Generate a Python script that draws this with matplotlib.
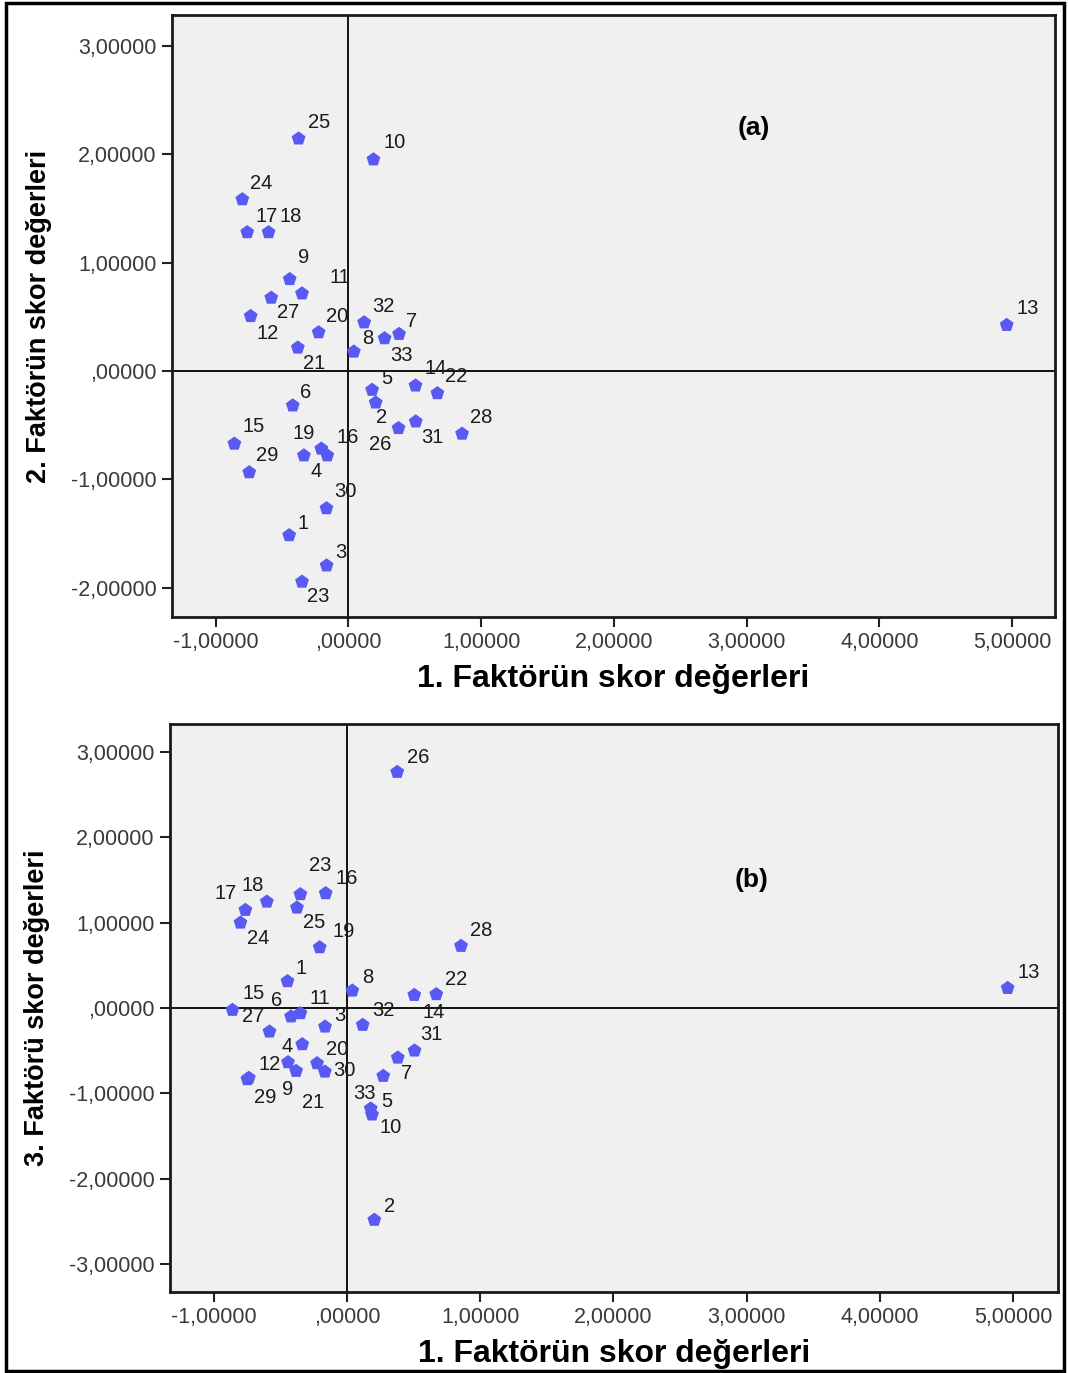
import matplotlib.pyplot as plt
from matplotlib.ticker import FuncFormatter, MultipleLocator
from matplotlib.patches import Rectangle

# case numbers and factor scores
case_ids = list(range(1, 34))
f1_scores = [-0.447, 0.205, -0.165, -0.336, 0.178, -0.420, 0.381, 0.040, -0.443, 0.188,
             -0.350, -0.737, 4.960, 0.505, -0.860, -0.160, -0.763, -0.602, -0.205, -0.225,
             -0.382, 0.670, -0.350, -0.800, -0.376, 0.377, -0.582, 0.856, -0.748, -0.166,
             0.507, 0.118, 0.272]
f2_scores = [-1.517, -0.292, -1.796, -0.780, -0.175, -0.319, 0.341, 0.178, 0.847, 1.952,
             0.715, 0.506, 0.424, -0.135, -0.672, -0.780, 1.280, 1.280, -0.718, 0.356,
             0.215, -0.206, -1.946, 1.584, 2.145, -0.528, 0.675, -0.580, -0.936, -1.268,
             -0.467, 0.448, 0.301]
f3_scores = [0.313, -2.485, -0.219, -0.426, -1.180, -0.100, -0.583, 0.203, -0.637, -1.250,
             -0.062, -0.820, 0.234, 0.152, -0.023, 1.345, 1.149, 1.246, 0.711, -0.649,
             -0.739, 0.161, 1.333, 1.000, 1.176, 2.767, -0.277, 0.727, -0.836, -0.747,
             -0.500, -0.199, -0.797]

# where each case number sits relative to its marker (pixels, x right / y up)
offsets_a = [(14, 12), (6, -15), (14, 13), (12, -16), (15, 11), (13, 13), (13, 13), (14, 13),
             (14, 22), (21, 17), (38, 16), (17, -17), (21, 17), (20, 17), (19, 17), (20, 18),
             (19, 16), (22, 16), (-18, 15), (18, 16), (16, -16), (19, 17), (16, -15), (19, 16),
             (21, 16), (-18, -16), (17, -15), (19, 16), (18, 17), (19, 17), (17, -16), (19, 16),
             (17, -17)]
offsets_b = [(14, 13), (15, 13), (15, 11), (-15, -2), (16, 7), (-14, 16), (9, -16), (15, 13),
             (0, -27), (19, -13), (19, 15), (21, 13), (21, 16), (19, -17), (21, 16), (21, 15),
             (-20, 17), (-14, 16), (24, 16), (20, 14), (17, -31), (20, 15), (20, 29), (18, -16),
             (17, -15), (21, 15), (-16, 15), (20, 15), (18, -18), (19, 1), (17, 16), (21, 14),
             (-19, -18)]

W, H = 1068, 1373
fig = plt.figure(figsize=(W / 100, H / 100), dpi=100)
fig.patch.set_facecolor('white')


def fmt(v, pos):
    s = '%.5f' % v
    s = s.replace('.', ',')
    if s.startswith('0,'):
        s = s[1:]
    if s.startswith('-0,') and abs(v) < 1e-9:
        s = s[2:]
    return s


def panel(rect, xs, ys, offs, xlim, ylim, ylabel, tag, tagpos):
    ax = fig.add_axes(rect)
    ax.set_facecolor('#f0f0f0')
    ax.axhline(0, color='#111111', lw=1.4, zorder=1)
    ax.axvline(0, color='#111111', lw=1.4, zorder=1)
    ax.scatter(xs, ys, marker='p', s=110, color='#5959f3', edgecolors='none', zorder=3)
    for cid, x, y, (dx, dy) in zip(case_ids, xs, ys, offs):
        ax.annotate(str(cid), (x, y), xytext=(dx, dy), textcoords='offset pixels',
                    ha='center', va='center', fontsize=14.5, color='#1a1a1a',
                    family='Liberation Sans', zorder=4)
    ax.set_xlim(*xlim)
    ax.set_ylim(*ylim)
    ax.xaxis.set_major_locator(MultipleLocator(1))
    ax.yaxis.set_major_locator(MultipleLocator(1))
    ax.xaxis.set_major_formatter(FuncFormatter(fmt))
    ax.yaxis.set_major_formatter(FuncFormatter(fmt))
    ax.tick_params(length=7, width=1.5, color='#222222', labelsize=15.5,
                   labelcolor='#3a3a3a', pad=4)
    for lab in ax.get_xticklabels() + ax.get_yticklabels():
        lab.set_family('Liberation Sans')
    for sp in ax.spines.values():
        sp.set_linewidth(2)
        sp.set_color('#1a1a1a')
    ax.set_xlabel('1. Faktörün skor değerleri', fontsize=23, fontweight='bold',
                  family=['Liberation Sans', 'DejaVu Sans'], labelpad=8)
    ax.set_ylabel(ylabel, fontsize=19.5, fontweight='bold',
                  family=['Liberation Sans', 'DejaVu Sans'], labelpad=14)
    ax.text(tagpos[0], tagpos[1], tag, transform=ax.transAxes, fontsize=19,
            fontweight='bold', family='Liberation Sans', ha='center', va='center')
    return ax


ax_a = panel([172 / W, 1 - 617 / H, 883 / W, 602 / H], f1_scores, f2_scores, offsets_a,
             (-1.33, 5.324), (-2.271, 3.286), '2. Faktörün skor değerleri', '(a)',
             ((754 - 172) / 883, (617 - 128) / 602))
ax_b = panel([170 / W, 1 - 1292 / H, 888 / W, 568 / H], f1_scores, f3_scores, offsets_b,
             (-1.329, 5.338), (-3.33, 3.33), '3. Faktörü skor değerleri', '(b)',
             ((752 - 170) / 888, (1292 - 880) / 568))

# outer frame
fig.patches.append(Rectangle((6 / W, 2 / H), 1058 / W, 1368 / H, transform=fig.transFigure,
                             fill=False, lw=2.5, edgecolor='black'))

fig.savefig('out.png', dpi=100)
